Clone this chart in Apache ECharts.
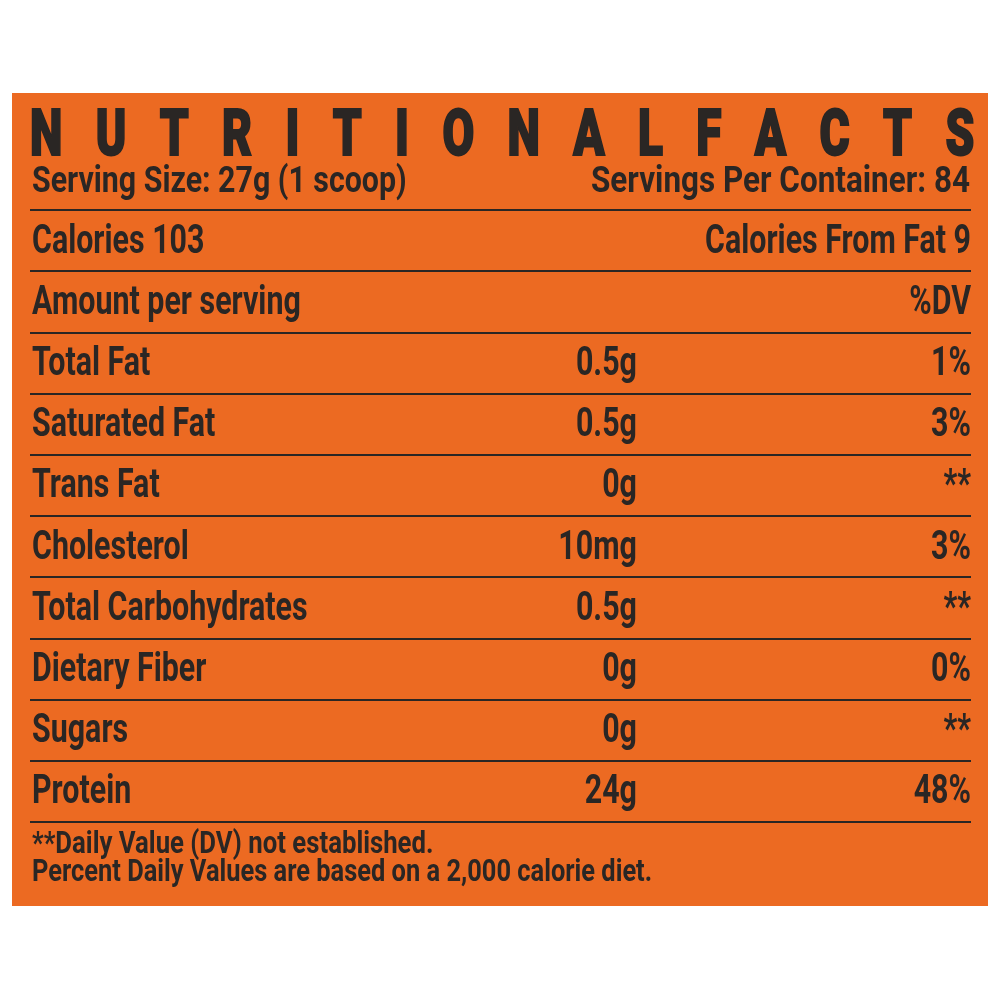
<!DOCTYPE html>
<html lang="en">
<head>
  <meta charset="UTF-8">
  <title>Nutritional Facts</title>
  <script src="https://cdn.jsdelivr.net/npm/echarts@6/dist/echarts.min.js"></script>
</head>
<body style="margin: 0;">
<div id="main" style="width: 1000px; height: 1000px;"></div>
<script type="text/javascript">
  // label content
  const title = 'NUTRITIONAL FACTS'
  const servingSize = 'Serving Size: 27g (1 scoop)'
  const servingsPerContainer = 'Servings Per Container: 84'
  const rowNames = ['Calories 103', 'Amount per serving', 'Total Fat', 'Saturated Fat', 'Trans Fat',
    'Cholesterol', 'Total Carbohydrates', 'Dietary Fiber', 'Sugars', 'Protein']
  const amounts = ['', '', '0.5g', '0.5g', '0g', '10mg', '0.5g', '0g', '0g', '24g']
  const dailyValues = ['Calories From Fat 9', '%DV', '1%', '3%', '**', '3%', '**', '0%', '**', '48%']
  const footnotes = ['**Daily Value (DV) not established.',
    'Percent Daily Values are based on a 2,000 calorie diet.']

  const ORANGE = '#EC6A22'
  const INK = '#2a2624'
  const FONT = 'Roboto, "Noto Sans", sans-serif'
  const SQUEEZE = 0.76       // fake a condensed face
  const AMOUNT_COL = 0.645   // right edge of the amount column, share of the table width

  const myChart = echarts.init(document.getElementById('main'))

  function cell(x, y, text, align, size, squeeze) {
    return {
      type: 'text',
      x: x,
      y: y,
      scaleX: squeeze || SQUEEZE,
      style: {
        text: text,
        fill: INK,
        font: `bold ${size}px ${FONT}`,
        align: align,
        verticalAlign: 'middle'
      }
    }
  }

  const titleRich = title.replace(/ /g, '').split('').map(c => `{t|${c}}`).join('')

  const option = {
    backgroundColor: '#fff',
    animation: false,
    grid: [
      {left: 12, top: 93, width: 976, height: 813, show: true, backgroundColor: ORANGE, borderWidth: 0},
      {left: 30, top: 210, width: 941, height: 612}
    ],
    xAxis: [
      {gridIndex: 0, type: 'value', show: false},
      {gridIndex: 1, type: 'value', min: 0, max: 1, show: false}
    ],
    yAxis: [
      {gridIndex: 0, type: 'value', show: false},
      {
        gridIndex: 1,
        type: 'category',
        inverse: true,
        data: rowNames,
        axisLine: {show: false},
        axisTick: {show: false},
        axisLabel: {show: false},
        splitLine: {show: true, lineStyle: {color: INK, width: 2}}
      }
    ],
    graphic: [
      {
        type: 'text',
        x: 30,
        y: 139,
        scaleX: 0.72,
        style: {
          text: titleRich,
          verticalAlign: 'middle',
          rich: {
            t: {font: `900 64px ${FONT}`, fill: INK, stroke: INK, lineWidth: 2, padding: [0, 46.3, 0, 0]}
          }
        }
      },
      cell(32, 183, servingSize, 'left', 37, 0.82),
      cell(970, 183, servingsPerContainer, 'right', 37, 0.85),
      cell(32, 845, footnotes[0], 'left', 31, 0.83),
      cell(32, 873, footnotes[1], 'left', 31, 0.82)
    ],
    series: [
      {
        type: 'custom',
        xAxisIndex: 1,
        yAxisIndex: 1,
        data: rowNames.map(n => [0, n]),
        encode: {x: 0, y: 1},
        renderItem(params, api) {
          const i = params.dataIndex
          const row = api.value(1)
          const [left, y] = api.coord([0, row])
          const amountX = api.coord([AMOUNT_COL, row])[0]
          const right = api.coord([1, row])[0]
          const children = [cell(left + 2, y + 2, rowNames[i], 'left', 40)]
          if (amounts[i]) children.push(cell(amountX, y + 2, amounts[i], 'right', 40))
          children.push(cell(right, y + 2, dailyValues[i], 'right', 40))
          return {type: 'group', children: children}
        }
      }
    ]
  }

  myChart.setOption(option)
</script>
</body>
</html>
